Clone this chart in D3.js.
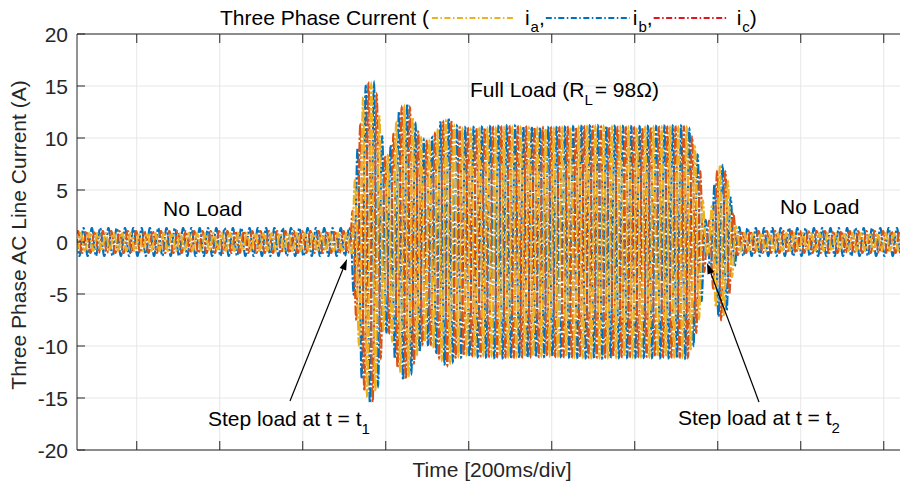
<!DOCTYPE html>
<html>
<head>
<meta charset="utf-8">
<script src="https://cdn.jsdelivr.net/npm/d3@7"></script>
<style>
  body { margin: 0; background: #fff; }
  text { font-family: "Liberation Sans", Arial, Helvetica, sans-serif; }
</style>
</head>
<body>
<svg id="chart"></svg>
<script>
// envelope of the phase currents (peak amplitude in A)
var envTime = [-0.144, 0.516, 0.523, 0.533, 0.545, 0.557, 0.569, 0.581, 0.596, 0.610,
               0.627, 0.642, 0.656, 0.673, 0.692, 0.711, 0.731, 0.750, 0.769, 0.793,
               0.9, 1.0, 1.1, 1.2, 1.328, 1.343, 1.357, 1.367, 1.374, 1.384,
               1.396, 1.408, 1.422, 1.434, 1.446, 1.458, 1.856];
var ampA = [0.85, 0.85, 5, 9, 13.8, 15, 15.2, 13.5, 8, 8.5,
            11.8, 13, 13, 11, 9.5, 9.8, 11.2, 11.8, 11, 10.8,
            11, 10.9, 11.1, 11, 11, 9.5, 7, 3, 0.85, 3,
            6.5, 7.5, 6.5, 3.5, 1.2, 0.85, 0.85];
var ampB = [1.35, 1.35, 5.5, 9.5, 14.5, 15.4, 15.6, 14, 8.5, 9,
            12.2, 13.3, 13.3, 11.2, 9.8, 10, 11.5, 12, 11.2, 11,
            11.2, 11, 11.2, 11.1, 11.2, 9.8, 7.5, 3.2, 1.35, 3.2,
            6.8, 7.6, 6.6, 3.6, 1.5, 1.35, 1.35];
var ampC = [1.05, 1.05, 5.2, 9.2, 14, 15.2, 15.4, 13.8, 8.2, 8.8,
            12, 13.2, 13.2, 11, 9.6, 9.9, 11.3, 11.9, 11.1, 10.9,
            11.1, 11, 11.1, 11, 11.1, 9.6, 7.2, 3.1, 1.05, 3.1,
            6.6, 7.5, 6.5, 3.5, 1.3, 1.05, 1.05];
var freq = 50;                   // Hz
var phaseShift = [0, -120, 120]; // deg, for ia, ib, ic
var lineColors = ["#EDB120", "#0072BD", "#D95319"];
var legendColors = ["#EDB120", "#0072BD", "#E3141B"];
var legendSubs = ["a", "b", "c"];
var yTicks = [-20, -15, -10, -5, 0, 5, 10, 15, 20];
var xTicks = [0, 0.2, 0.4, 0.6, 0.8, 1.0, 1.2, 1.4, 1.6, 1.8];

var W = 900, H = 485;
var plotLeft = 77, plotTop = 34, plotBottom = 450, plotWidth = 830;
var fontSize = 21;

var svg = d3.select("#chart").attr("width", W).attr("height", H);

var x = d3.scaleLinear().domain([-0.144, 1.856]).range([plotLeft, plotLeft + plotWidth]);
var y = d3.scaleLinear().domain([-20, 20]).range([plotBottom, plotTop]);

svg.append("defs").append("clipPath").attr("id", "plotclip")
  .append("rect").attr("x", plotLeft).attr("y", plotTop)
  .attr("width", plotWidth).attr("height", plotBottom - plotTop);

// grid
svg.append("g").selectAll("line").data(xTicks).enter().append("line")
  .attr("x1", function(d) { return x(d); }).attr("x2", function(d) { return x(d); })
  .attr("y1", plotTop).attr("y2", plotBottom)
  .style("stroke", "#e6e6e6").style("stroke-width", 1);
svg.append("g").selectAll("line").data(yTicks).enter().append("line")
  .attr("x1", plotLeft).attr("x2", W)
  .attr("y1", function(d) { return y(d); }).attr("y2", function(d) { return y(d); })
  .style("stroke", "#e6e6e6").style("stroke-width", 1);

// waveforms
var ampArrays = [ampA, ampB, ampC];
var envScales = ampArrays.map(function(a) {
  return d3.scaleLinear().domain(envTime).range(a).clamp(true);
});
var tSamples = d3.range(-0.144, 1.856, 0.0002);
var line = d3.line().x(function(d) { return x(d[0]); }).y(function(d) { return y(d[1]); });

var plot = svg.append("g").attr("clip-path", "url(#plotclip)");
[1, 2, 0].forEach(function(k) {
  var pts = tSamples.map(function(t) {
    var a = envScales[k](t);
    return [t, a * Math.sin(2 * Math.PI * freq * t + phaseShift[k] * Math.PI / 180)];
  });
  plot.append("path").datum(pts)
    .attr("d", line)
    .style("fill", "none")
    .style("stroke", lineColors[k])
    .style("stroke-width", 2.1)
    .style("stroke-dasharray", "10,2,2.5,2");
});

// axes box
var axisColor = "#262626";
svg.append("line").attr("x1", plotLeft).attr("x2", plotLeft).attr("y1", plotTop).attr("y2", plotBottom)
  .style("stroke", axisColor);
svg.append("line").attr("x1", plotLeft).attr("x2", W).attr("y1", plotBottom).attr("y2", plotBottom)
  .style("stroke", axisColor);
svg.append("line").attr("x1", plotLeft).attr("x2", W).attr("y1", plotTop).attr("y2", plotTop)
  .style("stroke", axisColor);

svg.append("g").selectAll("line").data(yTicks).enter().append("line")
  .attr("x1", plotLeft).attr("x2", plotLeft + 8)
  .attr("y1", function(d) { return y(d); }).attr("y2", function(d) { return y(d); })
  .style("stroke", axisColor);
svg.append("g").selectAll("line").data(xTicks).enter().append("line")
  .attr("x1", function(d) { return x(d); }).attr("x2", function(d) { return x(d); })
  .attr("y1", plotBottom).attr("y2", plotBottom - 9)
  .style("stroke", axisColor);
svg.append("g").selectAll("line").data(xTicks).enter().append("line")
  .attr("x1", function(d) { return x(d); }).attr("x2", function(d) { return x(d); })
  .attr("y1", plotTop).attr("y2", plotTop + 9)
  .style("stroke", axisColor);

svg.append("g").selectAll("text").data(yTicks).enter().append("text")
  .attr("x", plotLeft - 9)
  .attr("y", function(d) { return y(d); })
  .attr("dy", "0.36em")
  .attr("text-anchor", "end")
  .style("font-size", fontSize + "px")
  .style("fill", axisColor)
  .text(function(d) { return d; });

// axis labels
svg.append("text")
  .attr("transform", "translate(26,235) rotate(-90)")
  .attr("text-anchor", "middle")
  .style("font-size", fontSize + "px")
  .style("fill", axisColor)
  .text("Three Phase AC Line Current (A)");

svg.append("text")
  .attr("x", 492).attr("y", 477)
  .attr("text-anchor", "middle")
  .style("font-size", fontSize + "px")
  .style("fill", axisColor)
  .text("Time [200ms/div]");

// title with inline legend
var title = svg.append("g");
var cx = 220, ty = 25;
function addText(str, xx, yy, size) {
  var t = title.append("text").attr("x", xx).attr("y", yy)
    .style("font-size", size + "px").style("fill", "#000").text(str);
  return t.node().getComputedTextLength();
}
cx += addText("Three Phase Current (", cx, ty, fontSize) + 3;
var legendGaps = [[83, 10], [84, 3], [73, 10]];
legendSubs.forEach(function(s, i) {
  title.append("line")
    .attr("x1", cx).attr("x2", cx + legendGaps[i][0])
    .attr("y1", 18).attr("y2", 18)
    .style("stroke", legendColors[i]).style("stroke-width", 2)
    .style("stroke-dasharray", "6,2.5,1.5,2.5");
  cx += legendGaps[i][0] + legendGaps[i][1];
  cx += addText("i", cx, ty, fontSize) + 1;
  cx += addText(s, cx, ty + 7, 15);
  cx += addText(i < 2 ? "," : ")", cx, ty, fontSize) + 1;
});

// annotations
function label(parts, xx, yy) {
  var cur = xx;
  parts.forEach(function(p) {
    var t = svg.append("text").attr("x", cur).attr("y", yy + (p.sub ? 8 : 0))
      .style("font-size", (p.sub ? 15 : fontSize) + "px").style("fill", "#000")
      .text(p.s);
    cur += t.node().getComputedTextLength() + (p.gap || 0);
  });
}
label([{s: "No Load"}], 163, 216);
label([{s: "No Load"}], 780, 214);
label([{s: "Full Load (R"}, {s: "L", sub: true, gap: 2}, {s: " = 98\u03A9)"}], 470, 97);
label([{s: "Step load at t = t"}, {s: "1", sub: true}], 208, 426);
label([{s: "Step load at t = t"}, {s: "2", sub: true}], 678, 425);

function arrow(x1, y1, x2, y2) {
  var ang = Math.atan2(y2 - y1, x2 - x1), len = 11, hw = 3.5;
  var bx = x2 - len * Math.cos(ang), by = y2 - len * Math.sin(ang);
  svg.append("line").attr("x1", x1).attr("y1", y1).attr("x2", bx).attr("y2", by)
    .style("stroke", "#000").style("stroke-width", 1.2);
  var px = -Math.sin(ang) * hw, py = Math.cos(ang) * hw;
  svg.append("path")
    .attr("d", "M" + x2 + "," + y2 + "L" + (bx + px) + "," + (by + py) +
      "L" + (bx - px) + "," + (by - py) + "Z")
    .style("fill", "#000");
}
arrow(290, 401, 347, 259);
arrow(759, 402, 707, 263);
</script>
</body>
</html>
